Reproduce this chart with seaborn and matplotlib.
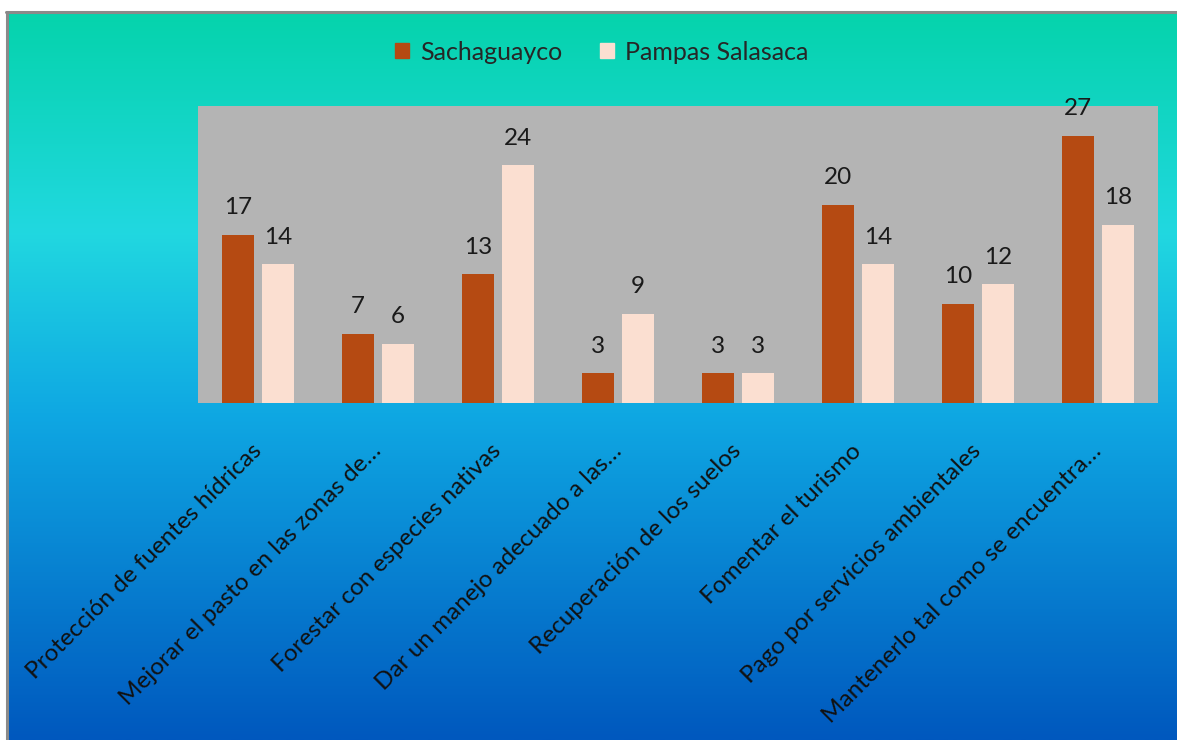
import matplotlib
matplotlib.use("Agg")

import matplotlib.pyplot as plt
import numpy as np
import pandas as pd
import seaborn as sns
from matplotlib.colors import LinearSegmentedColormap

categories = [
    "Protección de fuentes hídricas",
    "Mejorar el pasto en las zonas de…",
    "Forestar con especies nativas",
    "Dar un manejo adecuado a las…",
    "Recuperación de los suelos",
    "Fomentar el turismo",
    "Pago por servicios ambientales",
    "Mantenerlo tal como se encuentra…",
]
series_names = ["Sachaguayco", "Pampas Salasaca"]
sachaguayco = [17, 7, 13, 3, 3, 20, 10, 27]
pampas_salasaca = [14, 6, 24, 9, 3, 14, 12, 18]
bar_colors = ["#B54A12", "#FBDFD1"]

df = pd.DataFrame({
    "Opción": categories * 2,
    "Serie": [series_names[0]] * len(categories) + [series_names[1]] * len(categories),
    "Valor": sachaguayco + pampas_salasaca,
})

sns.set_theme(style="white")
plt.rcParams["font.family"] = ["Lato", "DejaVu Sans"]

W, H = 1177, 740
fig = plt.figure(figsize=(W / 100, H / 100), dpi=100)
fig.patch.set_facecolor("white")

# gradient background of the chart frame
bg = fig.add_axes([8 / W, 0, 1 - 8 / W, (H - 13) / H], zorder=-5)
grad = LinearSegmentedColormap.from_list(
    "bg", [(0.0, "#05D3AC"), (0.30, "#21D8E0"), (0.55, "#0FA8E3"), (1.0, "#0058BE")]
)
bg.imshow(np.linspace(0, 1, 256).reshape(-1, 1), aspect="auto", cmap=grad,
          extent=[0, 1, 0, 1], origin="upper")
bg.set_axis_off()
fig.add_artist(plt.Line2D([7 / W, 7 / W], [0, (H - 12) / H], color="#8A8A8A", lw=2.2))
fig.add_artist(plt.Line2D([6 / W, 1], [(H - 12) / H, (H - 12) / H], color="#8A8A8A", lw=2.2))

ax = fig.add_axes([198 / W, (H - 403) / H, 960 / W, (403 - 106) / H])
ax.set_facecolor("#B4B4B4")
sns.barplot(data=df, x="Opción", y="Valor", hue="Serie", hue_order=series_names,
            palette=bar_colors, width=0.667, gap=0.2, saturation=1, ax=ax,
            legend=False, linewidth=0)

for cont in ax.containers:
    ax.bar_label(cont, fmt="%d", padding=12, fontsize=17.5, color="#1A1A1A")

ax.set_ylim(0, 30)
ax.set_xlim(-0.5, len(categories) - 0.5)
ax.set_xlabel("")
ax.set_ylabel("")
ax.set_yticks([])
for s in ax.spines.values():
    s.set_visible(False)
ax.tick_params(axis="x", length=0, pad=32)
ax.set_xticks(range(len(categories)))
ax.set_xticklabels(categories, rotation=45, ha="right", va="center",
                   rotation_mode="anchor", fontsize=17.5, color="#111111")

handles = [plt.Rectangle((0, 0), 1, 1, color=c) for c in bar_colors]
fig.legend(handles, series_names, loc="center", bbox_to_anchor=(602 / W, 1 - 52 / H),
           ncol=2, frameon=False, fontsize=18, handlelength=0.55, handleheight=0.55,
           handletextpad=0.45, columnspacing=1.5)

fig.savefig("out.png", dpi=100)
